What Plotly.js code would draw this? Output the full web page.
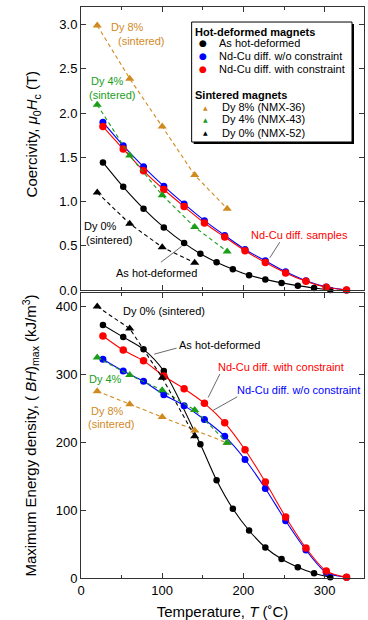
<!DOCTYPE html>
<html><head><meta charset="utf-8">
<script src="https://cdn.plot.ly/plotly-3.0.1.min.js"></script>
<style>html,body{margin:0;padding:0;background:#fff}#chart{width:368px;height:620px}</style>
</head><body><div id="chart"></div><script>
// ---- data ----
const tHD   = [27,52,77,102,127,147,167,187,207,227,247,267,287,307];
const hcHD  = [1.443,1.166,0.92,0.708,0.53,0.41,0.314,0.234,0.166,0.12,0.08,0.049,0.023,0.0];
const tHDbh = [27,52,77,102,147,167,187,207,227,247,267,287,307];
const bhHD  = [373,355,337,305,197,144,102,70,45,28,16,7,1];
const tNdCu = [27,52,77,102,127,152,177,202,227,252,277,302,327];
const hcNoCon = [1.898,1.632,1.393,1.174,0.973,0.784,0.617,0.458,0.33,0.205,0.105,0.035,0.0];
const hcCon   = [1.848,1.594,1.348,1.136,0.943,0.757,0.598,0.443,0.31,0.193,0.098,0.03,0.0];
const bhNoCon = [322.5,305,290,270,254,233.6,209,174.7,132,84.4,41.2,8,1];
const bhCon   = [356.7,335.9,320,297.6,278.9,257.4,228.7,189,141.4,89.9,44.2,10.4,1];
const tSint = [20,60,100,140,180];
const tDy0  = [20,60,100,140];
const hcDy8 = [2.99,2.39,1.848,1.299,0.92];
const hcDy4 = [2.094,1.52,1.072,0.711,0.435];
const hcDy0 = [1.102,0.75,0.484,0.307];
const bhDy8 = [275.3,256,237.2,217.3,199];
const bhDy4 = [325,299,276.8,247.6,199.4];
const bhDy0 = [400,367.6,295.2,209];
const xTicks = [0,100,200,300];

// ---- styles ----
const ORANGE = '#d18a1f', GREEN = '#1a9e1a', BLUE = '#0000ff', RED = '#ff0000', BLACK = '#000000';
const FONT = 'Liberation Sans, Arial, Helvetica, sans-serif';

function solid(x, y, c, ms, xa, ya) {
  return {x: x, y: y, xaxis: xa, yaxis: ya, mode: 'lines+markers', showlegend: false, cliponaxis: false,
    line: {color: c, width: 1.1, shape: 'spline', smoothing: 0.8},
    marker: {color: c, size: ms, symbol: 'circle'}, hoverinfo: 'x+y'};
}
function dashed(x, y, c, xa, ya) {
  return {x: x, y: y, xaxis: xa, yaxis: ya, mode: 'lines+markers', showlegend: false, cliponaxis: false,
    line: {color: c, width: 1.1, dash: '4px,3px'},
    marker: {color: c, size: 8, symbol: 'triangle-up'}, hoverinfo: 'x+y'};
}

const data = [
  solid(tHD, hcHD, BLACK, 6.5, 'x', 'y'),
  solid(tNdCu, hcNoCon, BLUE, 7, 'x', 'y'),
  solid(tNdCu, hcCon, RED, 7.5, 'x', 'y'),
  dashed(tSint, hcDy8, ORANGE, 'x', 'y'),
  dashed(tSint, hcDy4, GREEN, 'x', 'y'),
  dashed(tDy0, hcDy0, BLACK, 'x', 'y'),
  solid(tHDbh, bhHD, BLACK, 6.5, 'x2', 'y2'),
  solid(tNdCu, bhNoCon, BLUE, 7, 'x2', 'y2'),
  solid(tNdCu, bhCon, RED, 7.5, 'x2', 'y2'),
  dashed(tSint, bhDy8, ORANGE, 'x2', 'y2'),
  dashed(tSint, bhDy4, GREEN, 'x2', 'y2'),
  dashed(tDy0, bhDy0, BLACK, 'x2', 'y2')
];

const axisCommon = {showline: true, linecolor: '#333', linewidth: 1, mirror: 'ticks', ticks: 'inside',
  ticklen: 5, tickwidth: 1, tickcolor: '#333', showgrid: false, zeroline: false,
  tickfont: {family: FONT, size: 13, color: '#000'}};

const xAx = Object.assign({}, axisCommon, {range: [0, 348.5], tickvals: xTicks,
  minor: {dtick: 50, ticklen: 3, ticks: 'inside', tickcolor: '#333', showgrid: false}});

function ann(x, y, text, color, xr, yr) {
  return {x: x, y: y, xref: xr, yref: yr, text: text, showarrow: false, xanchor: 'center', yanchor: 'middle',
    font: {family: FONT, size: 11, color: color}};
}
// legend geometry (paper coords)
const L = {x0: 0.391, x1: 0.9576, y0: 0.7636, y1: 0.9737};
function legText(x, y, text, size, color, bold, fam) {
  return {x: x, y: y, xref: 'paper', yref: 'paper', text: bold ? '<b>' + text + '</b>' : text, showarrow: false,
    xanchor: 'left', yanchor: 'middle', font: {family: fam || FONT, size: size, color: color}};
}
function legSym(x, y, sym, size, color) {
  return {x: x, y: y, xref: 'paper', yref: 'paper', text: sym, showarrow: false,
    xanchor: 'center', yanchor: 'middle', font: {family: 'DejaVu Sans', size: size, color: color}};
}

const annotations = [
  // top y-axis title (placed as annotation to match its off-centre position)
  {x: -0.168, y: 0.7776, xref: 'paper', yref: 'paper', textangle: -90, showarrow: false,
   xanchor: 'center', yanchor: 'middle',
   text: 'Coercivity, <i>μ</i><sub>0</sub><i>H</i><sub>c</sub> (T)', font: {family: FONT, size: 15, color: '#000'}},
  ann(57.2, 2.97, 'Dy 8%', ORANGE, 'x', 'y'),
  ann(73.8, 2.81, '(sintered)', ORANGE, 'x', 'y'),
  ann(32.6, 2.359, 'Dy 4%', GREEN, 'x', 'y'),
  ann(37.8, 2.2, '(sintered)', GREEN, 'x', 'y'),
  ann(23.8, 0.723, 'Dy 0%', BLACK, 'x', 'y'),
  ann(34.4, 0.56, '(sintered)', BLACK, 'x', 'y'),
  ann(93.5, 0.189, 'As hot-deformed', BLACK, 'x', 'y'),
  ann(269.4, 0.625, 'Nd-Cu diff. samples', RED, 'x', 'y'),
  ann(102.7, 394, 'Dy 0% (sintered)', BLACK, 'x2', 'y2'),
  ann(171, 343.8, 'As hot-deformed', BLACK, 'x2', 'y2'),
  ann(245.8, 310.6, 'Nd-Cu diff. with constraint', RED, 'x2', 'y2'),
  ann(267.8, 276.8, 'Nd-Cu diff. w/o constraint', BLUE, 'x2', 'y2'),
  ann(30.5, 292.7, 'Dy 4%', GREEN, 'x2', 'y2'),
  ann(32.6, 246.1, 'Dy 8%', ORANGE, 'x2', 'y2'),
  ann(36.5, 227.2, '(sintered)', ORANGE, 'x2', 'y2'),
  // legend
  legText(0.3970, 0.9567, 'Hot-deformed magnets', 11, '#000', true),
  legSym(0.4311, 0.9364, '●', 9, BLACK),
  legSym(0.4311, 0.9142, '●', 9, BLUE),
  legSym(0.4311, 0.8909, '●', 9, RED),
  legText(0.4800, 0.9364, 'As hot-deformed', 11, '#000'),
  legText(0.4800, 0.9142, 'Nd-Cu diff. w/o constraint', 11, '#000'),
  legText(0.4800, 0.8909, 'Nd-Cu diff. with constraint', 11, '#000'),
  legText(0.3970, 0.8459, 'Sintered magnets', 11, '#000', true),
  legSym(0.4382, 0.8243, '▲', 6, ORANGE),
  legSym(0.4382, 0.8033, '▲', 6, GREEN),
  legSym(0.4382, 0.7799, '▲', 6, BLACK),
  legText(0.4905, 0.8243, 'Dy 8% (NMX-36)', 11, '#000'),
  legText(0.4905, 0.8033, 'Dy 4% (NMX-43)', 11, '#000'),
  legText(0.4905, 0.7799, 'Dy 0% (NMX-52)', 11, '#000')
];

function lead(x0, y0, x1, y1, xr, yr) {
  return {type: 'line', xref: xr, yref: yr, x0: x0, y0: y0, x1: x1, y1: y1, line: {color: '#444', width: 0.8}};
}
const shapes = [
  lead(98.4, 0.314, 123.8, 0.492, 'x', 'y'),
  lead(244.8, 0.541, 232.5, 0.364, 'x', 'y'),
  lead(117.7, 338.8, 90.2, 329.9, 'x2', 'y2'),
  lead(171, 300.6, 156.6, 266, 'x2', 'y2'),
  lead(192.3, 267, 162.7, 247.1, 'x2', 'y2'),
  {type: 'rect', xref: 'paper', yref: 'paper', x0: L.x0 + 2/283, x1: L.x1 + 2/283, y0: L.y0 - 2/571, y1: L.y1 - 2/571,
   fillcolor: '#000', line: {width: 0}, layer: 'above'},
  {type: 'rect', xref: 'paper', yref: 'paper', x0: L.x0, x1: L.x1, y0: L.y0, y1: L.y1,
   fillcolor: '#fff', line: {color: '#000', width: 1}, layer: 'above'}
];

const layout = {
  width: 368, height: 620, margin: {l: 81, r: 4, t: 7, b: 42},
  paper_bgcolor: '#fff', plot_bgcolor: '#fff', showlegend: false,
  font: {family: FONT, size: 13, color: '#000'},
  xaxis: Object.assign({}, xAx, {anchor: 'y', showticklabels: false}),
  xaxis2: Object.assign({}, xAx, {anchor: 'y2', matches: 'x',
    title: {text: 'Temperature, <i>T</i> (˚C)', font: {family: FONT, size: 15}, standoff: 10}}),
  yaxis: Object.assign({}, axisCommon, {domain: [0.5044, 1], anchor: 'x', range: [0, 3.2], dtick: 0.5, tick0: 0,
    tickformat: '.1f'}),
  yaxis2: Object.assign({}, axisCommon, {domain: [0, 0.4991], anchor: 'x2', range: [0, 420], dtick: 100, tick0: 0,
    title: {text: 'Maximum Energy density, ( <i>BH</i>)<sub>max</sub> (kJ/m<sup>3</sup>)', font: {family: FONT, size: 15}, standoff: 15}}),
  annotations: annotations,
  shapes: shapes
};

Plotly.newPlot('chart', data, layout, {staticPlot: true});
</script></body></html>
